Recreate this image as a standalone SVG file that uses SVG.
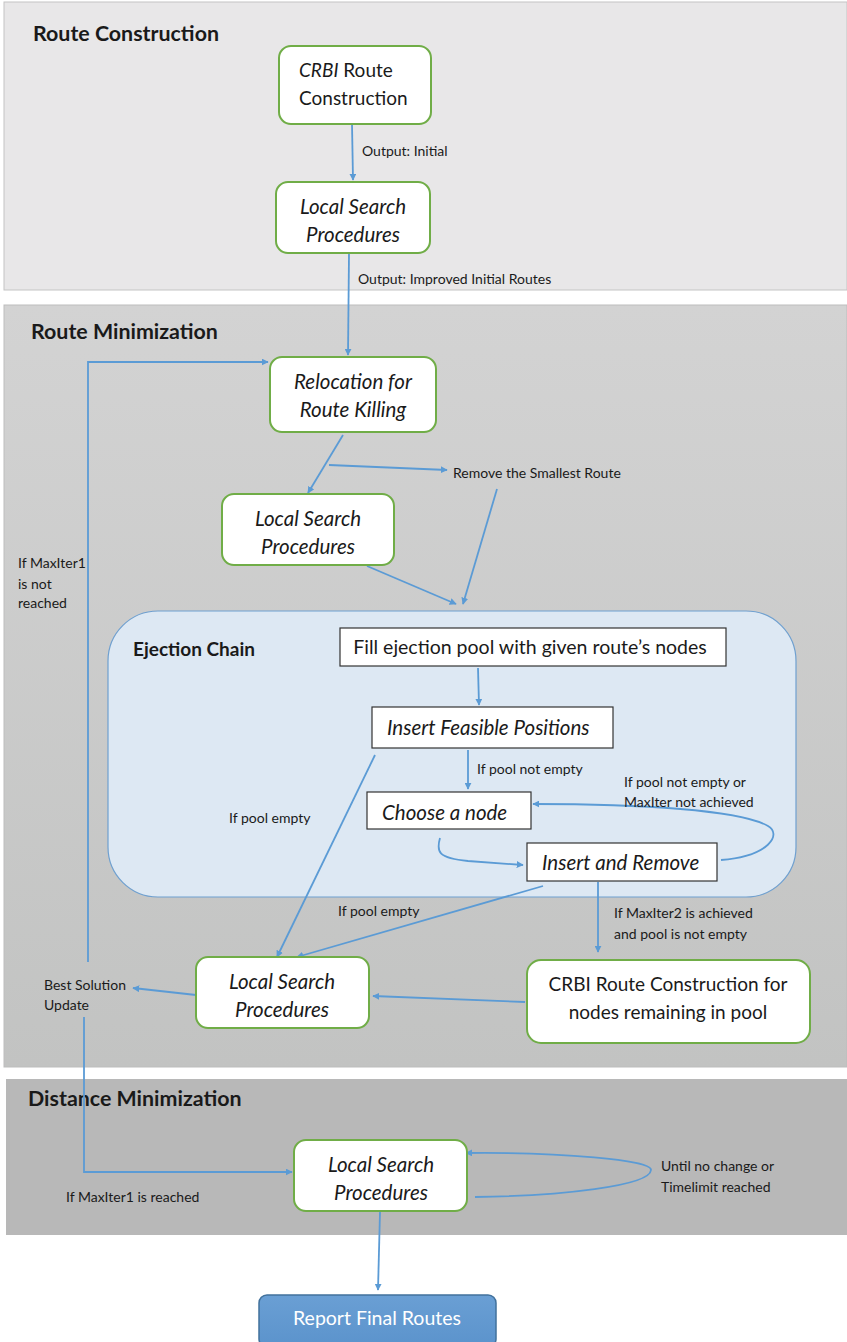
<svg xmlns="http://www.w3.org/2000/svg" width="847" height="1342" viewBox="0 0 847 1342">
  <style>
    text { font-family: Lato, "Open Sans", "Liberation Sans", sans-serif; fill: #1a1a1a; }
    .title { font-size: 21.4px; font-weight: bold; }
    .lbl { font-size: 14px; }
    .node { font-size: 19px; }
    .it { font-style: italic; font-size: 20.5px; }
    .green { fill: #ffffff; stroke: #70ad47; stroke-width: 2; }
    .box { fill: #ffffff; stroke: #333333; stroke-width: 1.2; }
    .conn { fill: none; stroke: #5b9bd5; stroke-width: 1.8; }
    .arr { marker-end: url(#ah); }
  </style>
  <defs>
    <marker id="ah" viewBox="0 0 10 10" refX="9" refY="5" markerWidth="7" markerHeight="7" markerUnits="userSpaceOnUse" orient="auto">
      <path d="M0,0 L10,5 L0,10 z" fill="#5b9bd5"/>
    </marker>
    <linearGradient id="midPanel" x1="0" y1="0" x2="0" y2="1">
      <stop offset="0" stop-color="#d3d3d3"/>
      <stop offset="1" stop-color="#c2c3c2"/>
    </linearGradient>
    <linearGradient id="reportFill" x1="0" y1="0" x2="0" y2="1">
      <stop offset="0" stop-color="#6a9fd4"/>
      <stop offset="1" stop-color="#5b93cc"/>
    </linearGradient>
  </defs>

  <!-- phase panels -->
  <g id="panel-route-construction">
    <rect x="4" y="2" width="843" height="288" fill="#e8e7e8" stroke="#c4c4c4" stroke-width="1"/>
    <text class="title" x="33" y="41">Route Construction</text>
  </g>
  <g id="panel-route-minimization">
    <rect x="4" y="305" width="843" height="762" fill="url(#midPanel)" stroke="#bdbdbd" stroke-width="1"/>
    <text class="title" x="31" y="339">Route Minimization</text>
  </g>
  <g id="panel-distance-minimization">
    <rect x="6" y="1079" width="841" height="156" fill="#b8b8b8"/>
    <text class="title" x="28" y="1106">Distance Minimization</text>
  </g>

  <!-- ejection chain container -->
  <g id="ejection-chain">
    <rect x="108" y="611" width="688" height="286" rx="50" ry="50" fill="#dde8f3" stroke="#6fa0d0" stroke-width="1.2"/>
    <text class="title" x="133" y="656" style="font-size:19px">Ejection Chain</text>
  </g>

  <!-- connectors -->
  <g id="connectors">
    <line class="conn arr" x1="352" y1="124" x2="353" y2="180"/>
    <line class="conn arr" x1="349" y1="254" x2="348" y2="355"/>
    <polyline class="conn arr" points="88,962 88,362 268,362"/>
    <line class="conn arr" x1="343" y1="435" x2="308" y2="493"/>
    <line class="conn arr" x1="329" y1="465" x2="447" y2="470"/>
    <line class="conn arr" x1="497" y1="489" x2="463" y2="604"/>
    <line class="conn arr" x1="367" y1="566" x2="456" y2="604"/>
    <line class="conn arr" x1="478" y1="668" x2="479" y2="705"/>
    <line class="conn arr" x1="468" y1="750" x2="468" y2="789"/>
    <path class="conn arr" d="M440,838 C436,852 438,858 468,861 L523,865"/>
    <path class="conn arr" d="M721,860 C770,856 782,834 768,826 C740,810 640,804 533,804"/>
    <line class="conn arr" x1="375" y1="755" x2="277" y2="957"/>
    <line class="conn arr" x1="543" y1="886" x2="297" y2="957"/>
    <line class="conn arr" x1="598" y1="882" x2="598" y2="952"/>
    <line class="conn arr" x1="525" y1="1002" x2="373" y2="996"/>
    <line class="conn arr" x1="196" y1="995" x2="133" y2="988"/>
    <polyline class="conn arr" points="84,1017 84,1172 292,1172"/>
    <path class="conn arr" d="M475,1197 C560,1196 650,1186 651,1170 C652,1160 560,1152 466,1153"/>
    <line class="conn arr" x1="380" y1="1212" x2="378" y2="1290"/>
  </g>

  <!-- connector labels -->
  <g id="labels">
    <text class="lbl" x="362" y="156">Output: Initial</text>
    <text class="lbl" x="358" y="284">Output: Improved Initial Routes</text>
    <text class="lbl" x="453" y="478">Remove the Smallest Route</text>
    <text class="lbl" x="18" y="568">If MaxIter1</text>
    <text class="lbl" x="18" y="589">is not</text>
    <text class="lbl" x="18" y="608">reached</text>
    <text class="lbl" x="477" y="774">If pool not empty</text>
    <text class="lbl" x="624" y="787">If pool not empty or</text>
    <text class="lbl" x="624" y="807">MaxIter not achieved</text>
    <text class="lbl" x="229" y="823">If pool empty</text>
    <text class="lbl" x="338" y="916">If pool empty</text>
    <text class="lbl" x="614" y="918">If MaxIter2 is achieved</text>
    <text class="lbl" x="614" y="939">and pool is not empty</text>
    <text class="lbl" x="44" y="990">Best Solution</text>
    <text class="lbl" x="44" y="1010">Update</text>
    <text class="lbl" x="66" y="1202">If MaxIter1 is reached</text>
    <text class="lbl" x="661" y="1171">Until no change or</text>
    <text class="lbl" x="661" y="1192">Timelimit reached</text>
  </g>

  <!-- nodes -->
  <g id="node-crbi">
    <rect class="green" x="279" y="46" width="152" height="78" rx="12"/>
    <text class="node" x="299" y="77"><tspan class="it" style="font-size:19px">CRBI</tspan> Route</text>
    <text class="node" x="299" y="105">Construction</text>
  </g>
  <g id="node-local-search-1">
    <rect class="green" x="276" y="182" width="154" height="71" rx="12"/>
    <text class="node it" x="353" y="214" text-anchor="middle">Local Search</text>
    <text class="node it" x="353" y="242" text-anchor="middle">Procedures</text>
  </g>
  <g id="node-relocation">
    <rect class="green" x="270" y="357" width="166" height="75" rx="12"/>
    <text class="node it" x="353" y="389" text-anchor="middle">Relocation for</text>
    <text class="node it" x="353" y="417" text-anchor="middle">Route Killing</text>
  </g>
  <g id="node-local-search-2">
    <rect class="green" x="222" y="494" width="172" height="71" rx="12"/>
    <text class="node it" x="308" y="526" text-anchor="middle">Local Search</text>
    <text class="node it" x="308" y="554" text-anchor="middle">Procedures</text>
  </g>
  <g id="node-fill-pool">
    <rect class="box" x="340" y="628" width="386" height="38"/>
    <text class="node" x="530" y="654" text-anchor="middle" style="font-size:19.5px">Fill ejection pool with given route’s nodes</text>
  </g>
  <g id="node-insert-feasible">
    <rect class="box" x="372" y="707" width="241" height="41"/>
    <text class="node it" x="387" y="735">Insert Feasible Positions</text>
  </g>
  <g id="node-choose">
    <rect class="box" x="367" y="792" width="164" height="37"/>
    <text class="node it" x="382" y="820">Choose a node</text>
  </g>
  <g id="node-insert-remove">
    <rect class="box" x="527" y="843" width="190" height="38"/>
    <text class="node it" x="542" y="870">Insert and Remove</text>
  </g>
  <g id="node-local-search-3">
    <rect class="green" x="196" y="957" width="173" height="71" rx="12"/>
    <text class="node it" x="282" y="989" text-anchor="middle">Local Search</text>
    <text class="node it" x="282" y="1017" text-anchor="middle">Procedures</text>
  </g>
  <g id="node-crbi-remaining">
    <rect class="green" x="527" y="960" width="283" height="83" rx="14"/>
    <text class="node" x="668" y="991" text-anchor="middle">CRBI Route Construction for</text>
    <text class="node" x="668" y="1019" text-anchor="middle">nodes remaining in pool</text>
  </g>
  <g id="node-local-search-4">
    <rect class="green" x="294" y="1140" width="173" height="71" rx="12"/>
    <text class="node it" x="381" y="1172" text-anchor="middle">Local Search</text>
    <text class="node it" x="381" y="1200" text-anchor="middle">Procedures</text>
  </g>
  <g id="node-report">
    <rect x="259" y="1295" width="237" height="52" rx="8" fill="url(#reportFill)" stroke="#41719c" stroke-width="1.5"/>
    <text class="node" x="377" y="1325" text-anchor="middle" style="fill:#ffffff;font-size:19.5px">Report Final Routes</text>
  </g>
</svg>
